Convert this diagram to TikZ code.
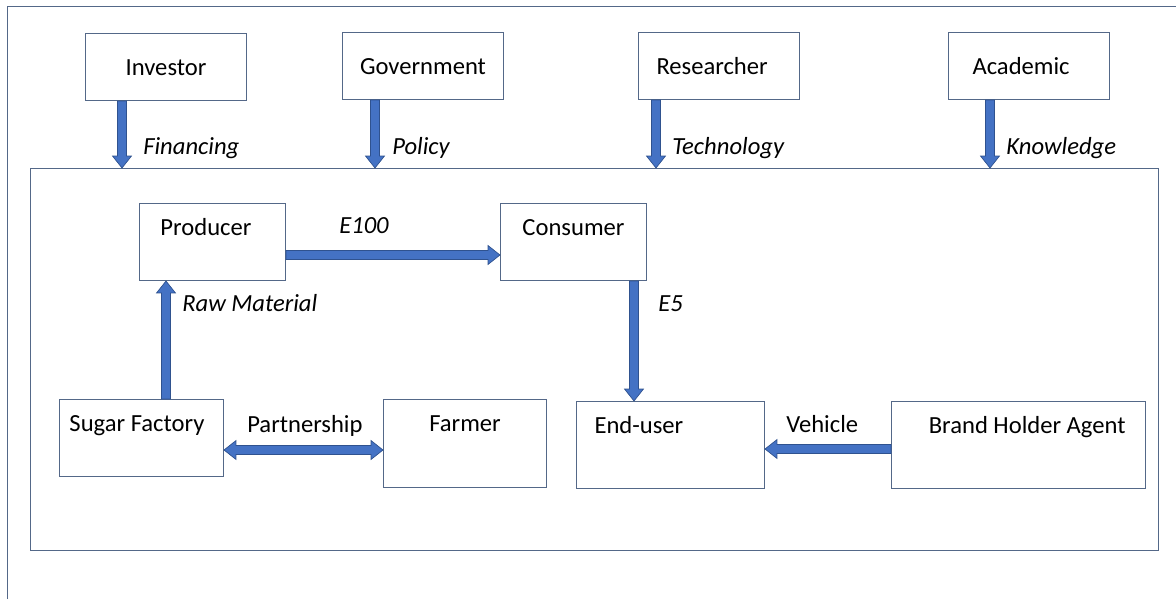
\documentclass[tikz,border=0pt]{standalone}
\usepackage{fontspec}
\setmainfont{Carlito}
\usepackage{tikz}
\definecolor{main}{RGB}{68,114,196}
\definecolor{mainedge}{RGB}{47,82,143}
\definecolor{cstline}{RGB}{84,104,136}
\usetikzlibrary{
	arrows.meta,
	positioning,
	calc
}
\tikzset{
  % node
	cstbox/.style    ={draw=cstline,line width=0.7pt,inner sep=0pt,anchor=north west,font=\fontsize{17.5}{21}\selectfont},
	csttop/.style    ={cstbox,minimum width=4.025cm,text height=1.05cm,text depth=0.625cm},
	cstin/.style     ={cstbox,text height=0.8cm},
	cstpad/.style    ={align=flush left,inner xsep=#1}, % text set from the left side
	cstlab/.style    ={inner sep=0pt,anchor=base west,font=\fontsize{17.5}{21}\selectfont\itshape},
	cstlabu/.style   ={cstlab,font=\fontsize{17.5}{21}\selectfont},
  % arrow
	cstbfill/.style  ={fill=main,draw=mainedge,line width=0.5pt},
	cstbarrow/.style ={cstbfill, % block arrow
		to path={($(\tikztostart)!3.2pt!90:(\tikztotarget)$)
			-- ($(\tikztotarget)!8.5pt!(\tikztostart)!3.2pt!90:(\tikztotarget)$)
			-- ($(\tikztotarget)!8.5pt!(\tikztostart)!6.7pt!90:(\tikztotarget)$)
			-- (\tikztotarget)
			-- ($(\tikztotarget)!8.5pt!(\tikztostart)!6.7pt!-90:(\tikztotarget)$)
			-- ($(\tikztotarget)!8.5pt!(\tikztostart)!3.2pt!-90:(\tikztotarget)$)
			-- ($(\tikztostart)!3.2pt!-90:(\tikztotarget)$) -- cycle}},
	cstdarrow/.style ={cstbfill, % block arrow, both ends
		to path={(\tikztostart)
			-- ($(\tikztostart)!8.5pt!(\tikztotarget)!6.7pt!90:(\tikztotarget)$)
			-- ($(\tikztostart)!8.5pt!(\tikztotarget)!3.2pt!90:(\tikztotarget)$)
			-- ($(\tikztotarget)!8.5pt!(\tikztostart)!3.2pt!90:(\tikztotarget)$)
			-- ($(\tikztotarget)!8.5pt!(\tikztostart)!6.7pt!90:(\tikztotarget)$)
			-- (\tikztotarget)
			-- ($(\tikztotarget)!8.5pt!(\tikztostart)!6.7pt!-90:(\tikztotarget)$)
			-- ($(\tikztotarget)!8.5pt!(\tikztostart)!3.2pt!-90:(\tikztotarget)$)
			-- ($(\tikztostart)!8.5pt!(\tikztotarget)!3.2pt!-90:(\tikztotarget)$)
			-- ($(\tikztostart)!8.5pt!(\tikztotarget)!6.7pt!-90:(\tikztotarget)$) -- cycle}}
}

\begin{document}
\begin{tikzpicture}[x=0.025cm,y=-0.025cm]
	\useasboundingbox (0,0) rectangle (1176,599);
	\draw[cstline,line width=0.7pt] (7,599) -- (7,6) -- (1176,6);
	% actors
	\node[csttop] (inv) at (85,33) {Investor};
	\node[csttop] (gov) at (342,32) {Government};
	\node[csttop,cstpad=0.45cm,text width=3.125cm] (res) at (638,32) {Researcher};
	\node[csttop,cstpad=0.6cm,text width=2.825cm] (acad) at (948,32) {Academic};
	\node[cstbox,minimum width=28.2cm,minimum height=9.55cm] (core) at (30,168) {};
	% chain
	\node[cstin,cstpad=0.525cm,text width=2.6cm,text depth=1.125cm] (prod) at (139,203) {Producer};
	\node[cstin,minimum width=3.65cm,text depth=1.125cm] (cons) at (500,203) {Consumer};
	\node[cstin,cstpad=0.25cm,text width=3.6cm,text depth=1.125cm] (sugar) at (59,399) {Sugar Factory};
	\node[cstin,minimum width=4.075cm,text depth=1.4cm] (farm) at (383,399) {Farmer};
	\node[cstin,cstpad=0.45cm,text width=3.8cm,text depth=1.375cm] (user) at (576,401) {End-user};
	\node[cstin,align=flush right,inner xsep=0.5cm,text width=5.35cm,text depth=1.375cm] (brand) at (891,401) {Brand Holder Agent};
	% flows
	\draw[cstbarrow] (122,0 |- inv.south) to (122,0 |- core.north);
	\draw[cstbarrow] (375,0 |- gov.south) to (375,0 |- core.north);
	\draw[cstbarrow] (656,0 |- res.south) to (656,0 |- core.north);
	\draw[cstbarrow] (990,0 |- acad.south) to (990,0 |- core.north);
	\draw[cstbarrow] (prod.east |- 0,255) to (cons.west |- 0,255);
	\draw[cstbarrow] (166,0 |- sugar.north) to (166,0 |- prod.south);
	\draw[cstbarrow] (634,0 |- cons.south) to (634,0 |- user.north);
	\draw[cstdarrow] (sugar.east |- 0,450) to (farm.west |- 0,450);
	\draw[cstbarrow] (brand.west |- 0,449) to (user.east |- 0,449);
	% labels
	\node[cstlab] (lfin) at (143,154) {Financing};
	\node[cstlab] (lpol) at (392,154) {Policy};
	\node[cstlab] (ltec) at (672,154) {Technology};
	\node[cstlab] (lkno) at (1006,154) {Knowledge};
	\node[cstlab] (le100) at (339,233) {E100};
	\node[cstlab] (lraw) at (182,311) {Raw Material};
	\node[cstlab] (le5) at (658,311) {E5};
	\node[cstlabu] (lpart) at (247,432) {Partnership};
	\node[cstlabu] (lveh) at (786,432) {Vehicle};
\end{tikzpicture}
\end{document}
